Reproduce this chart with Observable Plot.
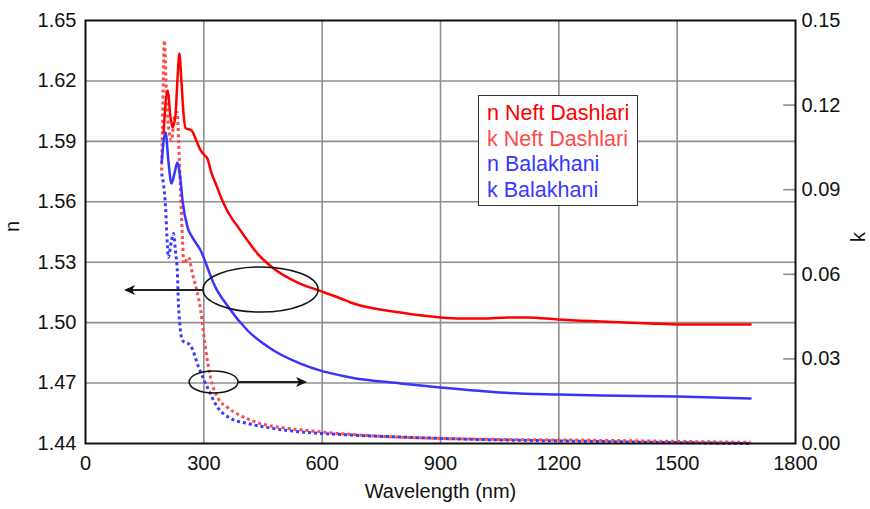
<!DOCTYPE html>
<html>
<head>
<meta charset="utf-8">
<script src="https://cdn.jsdelivr.net/npm/d3@7"></script>
<script src="https://cdn.jsdelivr.net/npm/@observablehq/plot@0.6"></script>
<style>
  body { margin: 0; background: #fff; }
  #wrap { position: relative; width: 870px; height: 509px; font-family: "Liberation Sans", Arial, sans-serif; }
  #legend { position: absolute; left: 478px; top: 95px; width: 150px; height: 104px; padding: 5px 0 0 8px;
            border: 1.5px solid #333; background: #fff; font-size: 21.5px; line-height: 25.7px; }
</style>
</head>
<body>
<div id="wrap"><div id="chart"></div>
  <div id="legend"></div>
</div>
<script>
// ---- data ----
const wlNeftN = [198, 208, 216, 221, 228, 233, 238, 243, 249, 254, 264, 271, 281, 292, 302, 309, 319, 330, 347, 355, 393, 436, 477, 538, 591, 647, 672, 799, 900, 951, 1009, 1070, 1121, 1197, 1306, 1432, 1501, 1602, 1686];
const nNeft    = [1.5944, 1.6152, 1.6013, 1.5969, 1.6028, 1.6202, 1.6336, 1.6202, 1.6028, 1.5964, 1.5959, 1.5949, 1.5904, 1.5855, 1.5830, 1.5815, 1.5745, 1.5691, 1.5606, 1.5572, 1.5457, 1.5343, 1.5269, 1.5199, 1.5160, 1.5120, 1.5100, 1.5050, 1.5026, 1.5021, 1.5021, 1.5026, 1.5026, 1.5016, 1.5006, 1.4996, 1.4991, 1.4991, 1.4991];

const wlNeftK = [193, 195, 200, 205, 210, 218, 226, 233, 236, 241, 246, 249, 261, 271, 292, 304, 317, 335, 360, 393, 436, 494, 563, 647, 900, 1306, 1686];
const kNeft    = [0.0968, 0.1110, 0.1429, 0.1252, 0.1128, 0.1074, 0.1163, 0.1174, 0.1074, 0.0897, 0.0720, 0.0638, 0.0660, 0.0603, 0.0472, 0.0340, 0.0234, 0.0163, 0.0128, 0.0099, 0.0074, 0.0057, 0.0046, 0.0035, 0.0018, 0.0011, 0.0004];

const wlBalaN = [193, 203, 210, 218, 226, 233, 241, 246, 259, 271, 292, 312, 325, 363, 411, 477, 545, 596, 647, 672, 799, 900, 1052, 1199, 1306, 1501, 1686];
const nBala    = [1.5795, 1.5944, 1.5805, 1.5691, 1.5745, 1.5795, 1.5706, 1.5606, 1.5472, 1.5423, 1.5358, 1.5259, 1.5194, 1.5075, 1.4961, 1.4862, 1.4797, 1.4762, 1.4738, 1.4728, 1.4698, 1.4678, 1.4653, 1.4643, 1.4638, 1.4633, 1.4623];

const wlBalaK = [193, 203, 208, 210, 218, 223, 228, 233, 236, 246, 266, 287, 309, 335, 368, 411, 477, 563, 647, 900, 1306, 1686];
const kBala    = [0.0957, 0.0837, 0.0695, 0.0660, 0.0720, 0.0745, 0.0684, 0.0603, 0.0482, 0.0365, 0.0348, 0.0270, 0.0199, 0.0128, 0.0089, 0.0071, 0.0053, 0.0039, 0.0032, 0.0018, 0.0007, 0.0000];

const xTicks = [0, 300, 600, 900, 1200, 1500, 1800];
const nTicks = [1.44, 1.47, 1.50, 1.53, 1.56, 1.59, 1.62, 1.65];
const kTicks = [0.00, 0.03, 0.06, 0.09, 0.12, 0.15];

const seriesNames  = ["n Neft Dashlari", "k Neft Dashlari", "n Balakhani", "k Balakhani"];
const seriesColors = ["#ff0000", "#ff4a4a", "#3535ff", "#3a3aff"];

// annotation ellipses and arrows (data units)
const ellipses = [
  {cx: 445, cy: 1.5162, rx: 146, ry: 0.0112},
  {cx: 326, cy: 1.4703, rx: 62, ry: 0.0055}
];
const arrows = [
  {x1: 299, x2: 99, y: 1.5160},
  {x1: 388, x2: 563, y: 1.4703}
];

// ---- mapping k (0..0.15) onto the n axis (1.44..1.65) ----
const kMin = 0, kMax = 0.15, nMin = 1.44, nMax = 1.65;
const kToN = k => nMin + (k - kMin) * (nMax - nMin) / (kMax - kMin);

const zip = (xs, ys, f = v => v) => xs.map((x, i) => ({x, y: f(ys[i])}));
const dNeftN = zip(wlNeftN, nNeft);
const dNeftK = zip(wlNeftK, kNeft, kToN);
const dBalaN = zip(wlBalaN, nBala);
const dBalaK = zip(wlBalaK, kBala, kToN);

const svgNS = "http://www.w3.org/2000/svg";
function annotations(index, scales) {
  const sx = scales.x, sy = scales.y;
  const g = document.createElementNS(svgNS, "g");
  for (const e of ellipses) {
    const el = document.createElementNS(svgNS, "ellipse");
    const cx = sx(e.cx), cy = sy(e.cy);
    el.setAttribute("cx", cx);
    el.setAttribute("cy", cy);
    el.setAttribute("rx", Math.abs(sx(e.cx + e.rx) - cx));
    el.setAttribute("ry", Math.abs(sy(e.cy + e.ry) - cy));
    el.setAttribute("fill", "none");
    el.setAttribute("stroke", "#111");
    el.setAttribute("stroke-width", 1.5);
    g.appendChild(el);
  }
  for (const a of arrows) {
    const x1 = sx(a.x1), x2 = sx(a.x2), y = sy(a.y);
    const dir = Math.sign(x2 - x1);
    const ln = document.createElementNS(svgNS, "line");
    ln.setAttribute("x1", x1); ln.setAttribute("x2", x2 - dir * 6);
    ln.setAttribute("y1", y); ln.setAttribute("y2", y);
    ln.setAttribute("stroke", "#222"); ln.setAttribute("stroke-width", 2);
    g.appendChild(ln);
    const p = document.createElementNS(svgNS, "path");
    p.setAttribute("d", `M${x2},${y} L${x2 - dir * 11},${y - 5} L${x2 - dir * 8},${y} L${x2 - dir * 11},${y + 5} Z`);
    p.setAttribute("fill", "#111");
    g.appendChild(p);
  }
  return g;
}

const dotted = {strokeWidth: 3, strokeDasharray: "3,3", strokeLinecap: "butt", strokeLinejoin: "miter", curve: "monotone-x"};
const solid = {strokeWidth: 2.5, curve: "monotone-x"};

const chart = Plot.plot({
  width: 870,
  height: 509,
  marginLeft: 85,
  marginRight: 75,
  marginTop: 20,
  marginBottom: 66,
  style: {fontFamily: "'Liberation Sans', Arial, sans-serif", fontSize: "20px", background: "white", color: "#111"},
  x: {domain: [0, 1800], ticks: xTicks, tickSize: 0, tickPadding: 12, label: null, tickFormat: d => String(d)},
  y: {domain: [nMin, nMax], ticks: nTicks, tickSize: 0, tickPadding: 9, label: null, tickFormat: d => d.toFixed(2)},
  marks: [
    Plot.ruleX(xTicks.slice(1, -1), {stroke: "#8f8f8f", strokeWidth: 1.6}),
    Plot.ruleY(nTicks.slice(1, -1), {stroke: "#8f8f8f", strokeWidth: 1.6}),
    Plot.ruleY(kTicks.slice(1, -1), {y: d => kToN(d), x1: 1770, x2: 1800, stroke: "#8f8f8f", strokeWidth: 1.6}),
    Plot.line(dNeftK, {x: "x", y: "y", stroke: seriesColors[1], ...dotted}),
    Plot.line(dBalaK, {x: "x", y: "y", stroke: seriesColors[3], ...dotted}),
    Plot.line(dBalaN, {x: "x", y: "y", stroke: seriesColors[2], ...solid}),
    Plot.line(dNeftN, {x: "x", y: "y", stroke: seriesColors[0], ...solid}),
    Plot.frame({stroke: "#111", strokeWidth: 2}),
    Plot.text(kTicks, {x: 1800, y: d => kToN(d), text: d => d.toFixed(2), dx: 6, textAnchor: "start", fontSize: 20, fill: "#111"}),
    Plot.text(["n"], {frameAnchor: "left", dx: -73, rotate: -90, fontSize: 20, fill: "#111"}),
    Plot.text(["k"], {frameAnchor: "right", dx: 63, rotate: -90, fontSize: 20, fill: "#111"}),
    Plot.text(["Wavelength (nm)"], {frameAnchor: "bottom", dy: 54, fontSize: 20, fill: "#111"}),
    annotations
  ]
});
document.getElementById("chart").appendChild(chart);

const legend = document.getElementById("legend");
seriesNames.forEach((name, i) => {
  const div = document.createElement("div");
  div.textContent = name;
  div.style.color = seriesColors[i];
  legend.appendChild(div);
});
</script>
</body>
</html>
